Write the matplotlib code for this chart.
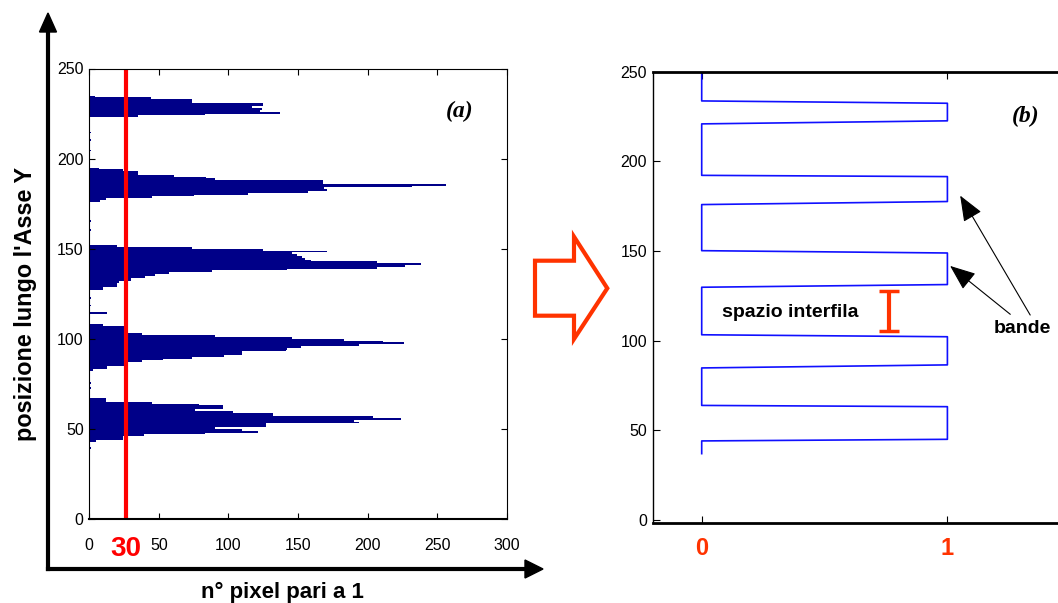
import numpy as np
import matplotlib
matplotlib.use("Agg")
import matplotlib.pyplot as plt
from matplotlib.patches import Polygon
from matplotlib.lines import Line2D

plt.rcParams['font.family'] = ['Liberation Sans', 'DejaVu Sans']

# --- panel (a): count of pixels equal to 1 along each row ---
rows_band1 = [234, 233, 232, 231, 230, 229, 228, 227, 226, 225, 224, 223]
cnt_band1 = [4, 44, 74, 74, 125, 125, 117, 124, 123, 137, 83, 35]

rows_band2 = [194, 193, 192, 191, 190, 189, 188, 187, 186, 185, 184, 183, 182,
              181, 180, 179, 178, 177, 176]
cnt_band2 = [7, 24, 35, 35, 61, 84, 90, 168, 168, 256, 232, 169, 171,
             157, 114, 75, 45, 12, 8]

rows_band3 = [151, 150, 149, 148, 147, 146, 145, 144, 143, 142, 141, 140, 139,
              138, 137, 136, 135, 134, 133, 132, 131, 130, 129, 128, 127]
cnt_band3 = [20, 74, 125, 171, 146, 149, 153, 155, 159, 207, 238, 227, 207,
             142, 88, 57, 47, 40, 30, 30, 21, 20, 20, 10, 10]

rows_band4 = [107, 106, 105, 104, 103, 102, 101, 100, 99, 98, 97, 96, 95, 94,
              93, 92, 91, 90, 89, 88, 87, 86, 85, 84, 83, 82]
cnt_band4 = [10, 25, 25, 25, 25, 38, 90, 146, 183, 211, 226, 194, 152, 142,
             141, 110, 110, 97, 74, 53, 38, 25, 25, 13, 13, 3]

rows_band5 = [66, 65, 64, 63, 62, 61, 60, 59, 58, 57, 56, 55, 54, 53, 52, 51,
              50, 49, 48, 47, 46, 45, 44, 43]
cnt_band5 = [12, 12, 45, 79, 96, 96, 76, 103, 132, 132, 204, 224, 190, 194,
             127, 127, 90, 110, 121, 83, 39, 24, 24, 5]

rows_sparse = [214, 210, 204, 165, 160, 122, 118, 114, 75, 72, 39]
cnt_sparse = [1, 1, 1, 1, 1, 1, 1, 13, 1, 1, 1]

threshold = 26.5
threshold_label = "30"

xticks_a = [0, 50, 100, 150, 200, 250, 300]
yticks = [0, 50, 100, 150, 200, 250]

# --- panel (b): binarised profile ---
wave_x = [0, 0, 1, 1, 0, 0, 1, 1, 0, 0, 1, 1, 0, 0, 1, 1, 0, 0, 1, 1, 0, 0]
wave_y = [250, 233.7, 232.4, 222.6, 220.9, 192.2, 191.5, 177.6, 175.9, 150.2,
          148.9, 131.3, 129.8, 103.3, 102.2, 86.5, 84.8, 63.9, 63.2, 45.0,
          44.1, 37.0]

gap_x = 0.762
gap_lo, gap_hi = 105.2, 127.8

W, H = 1058, 603
ORANGE = '#ff3300'
NAVY = '#000088'


def fx(px):
    return px / W


def fy(py):
    return 1 - py / H


fig = plt.figure(figsize=(W / 100, H / 100), dpi=100)

# ---------------- panel (a) ----------------
ax1 = fig.add_axes([fx(89.3), fy(519), 417.5 / W, 450.5 / H])
rows = rows_band1 + rows_band2 + rows_band3 + rows_band4 + rows_band5 + rows_sparse
cnts = cnt_band1 + cnt_band2 + cnt_band3 + cnt_band4 + cnt_band5 + cnt_sparse
ax1.barh(rows, cnts, height=1.0, align='edge', color=NAVY, linewidth=0)
ax1.axvline(threshold, color='#ff0000', lw=3)
ax1.set_xlim(0, 300)
ax1.set_ylim(0, 250)
ax1.set_xticks(xticks_a)
ax1.set_yticks(yticks)
ax1.tick_params(axis='both', direction='in', length=4, labelsize=11.5,
                top=True, right=True)
ax1.tick_params(axis='x', pad=14)
ax1.tick_params(axis='y', pad=4)
for s in ax1.spines.values():
    s.set_linewidth(0.8)
ax1.spines['bottom'].set_linewidth(1.5)
ax1.text(threshold, -16.5, threshold_label, color='#ff0000', fontsize=20,
         fontweight='bold', ha='center', va='center', clip_on=False)
ax1.text(266, 226, '(a)', family='Liberation Serif', fontsize=17,
         fontweight='bold', style='italic', ha='center', va='center')

# ---------------- panel (b) ----------------
unit = 245.7
ax2 = fig.add_axes([fx(701.7 - 0.2 * unit), fy(522.7), 1.8 * unit / W, 451 / H])
ax2.plot(wave_x, wave_y, color='#1010ff', lw=1.2)
ax2.set_xlim(-0.2, 1.6)
ax2.set_ylim(-1.5, 250)
ax2.set_xticks([0, 1])
ax2.set_xticklabels(['0', '1'], fontsize=17, fontweight='bold', color=ORANGE)
ax2.set_yticks(yticks)
ax2.tick_params(axis='both', direction='in', length=5, top=True, right=False)
ax2.tick_params(axis='y', labelsize=11.5, pad=4)
ax2.tick_params(axis='x', pad=10)
ax2.spines['right'].set_visible(False)
ax2.spines['left'].set_linewidth(1.0)
ax2.spines['top'].set_linewidth(2.0)
ax2.spines['bottom'].set_linewidth(2.0)

ax2.errorbar([gap_x], [(gap_lo + gap_hi) / 2], yerr=[(gap_hi - gap_lo) / 2],
             fmt='none', ecolor=ORANGE, elinewidth=3, capsize=7, capthick=2.5)
ax2.text(0.081, 115.5, 'spazio interfila', fontsize=14, fontweight='bold',
         ha='left', va='center')
ax2.text(1.305, 107, 'bande', fontsize=14, fontweight='bold',
         ha='center', va='center')
ax2.text(1.32, 225, '(b)', family='Liberation Serif', fontsize=17,
         fontweight='bold', style='italic', ha='center', va='center')
arrow_kw = dict(arrowstyle='-|>,head_length=1.0,head_width=0.4', color='black',
                lw=0.8, shrinkA=0, shrinkB=0, mutation_scale=16)
ax2.annotate('', xy=(1.011, 141.7), xytext=(1.256, 114.7), arrowprops=arrow_kw)
ax2.annotate('', xy=(1.052, 180.9), xytext=(1.337, 114.3), arrowprops=arrow_kw)

# ---------------- outer frame arrows and labels ----------------
fig.add_artist(Line2D([fx(48), fx(48)], [fy(569), fy(30)], color='black',
                      lw=3, transform=fig.transFigure))
fig.add_artist(Line2D([fx(48), fx(527)], [fy(569), fy(569)], color='black',
                      lw=3, transform=fig.transFigure))
fig.add_artist(Polygon([(fx(39.5), fy(32)), (fx(56.5), fy(32)), (fx(48), fy(13))],
                       closed=True, color='black', transform=fig.transFigure))
fig.add_artist(Polygon([(fx(525), fy(560)), (fx(525), fy(578)), (fx(543), fy(569))],
                       closed=True, color='black', transform=fig.transFigure))

fig.text(fx(282), fy(592), 'n° pixel pari a 1', fontsize=16, fontweight='bold',
         ha='center', va='center')
fig.text(fx(26), fy(304), "posizione lungo l'Asse Y", fontsize=16.8,
         fontweight='bold', rotation=90, ha='center', va='center')

# big hollow arrow between the panels
block = [(535, 260.7), (574, 260.7), (574, 236.7), (607.3, 288.3),
         (574, 339), (574, 315.7), (535, 315.7)]
fig.add_artist(Polygon([(fx(x), fy(y)) for x, y in block], closed=True,
                       fill=False, edgecolor=ORANGE, lw=3,
                       transform=fig.transFigure))

fig.savefig('out.png', dpi=100)
